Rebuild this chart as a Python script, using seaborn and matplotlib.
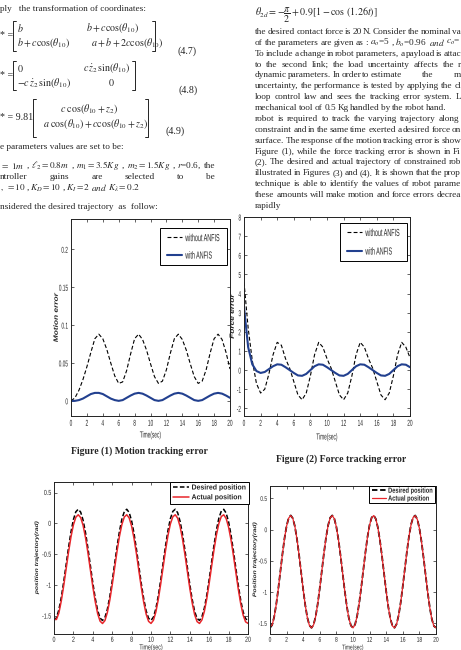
import matplotlib
matplotlib.use("Agg")
import matplotlib.pyplot as plt
import seaborn as sns
from matplotlib.lines import Line2D
from matplotlib.patheffects import AbstractPathEffect
from matplotlib.transforms import Affine2D

# ---- data ----
t_err = [0.0, 0.5, 1.0, 1.5, 2.0, 2.5, 3.0, 3.5, 4.0, 4.5, 5.0, 5.5, 6.0, 6.5,
         7.0, 7.5, 8.0, 8.5, 9.0, 9.5, 10.0, 10.5, 11.0, 11.5, 12.0, 12.5, 13.0,
         13.5, 14.0, 14.5, 15.0, 15.5, 16.0, 16.5, 17.0, 17.5, 18.0, 18.5, 19.0,
         19.5, 20.0]

motion_without = [0.000, 0.004, 0.014, 0.028, 0.045, 0.064, 0.082, 0.088, 0.082, 0.068,
                  0.050, 0.033, 0.023, 0.025, 0.040, 0.062, 0.082, 0.088, 0.081, 0.067,
                  0.049, 0.032, 0.023, 0.026, 0.041, 0.063, 0.082, 0.088, 0.081, 0.067,
                  0.049, 0.032, 0.023, 0.026, 0.041, 0.063, 0.082, 0.088, 0.081, 0.064,
                  0.042]
motion_with = [0.000, 0.000, 0.001, 0.003, 0.006, 0.009, 0.0105, 0.0105, 0.009, 0.006,
               0.003, 0.001, 0.000, 0.001, 0.004, 0.007, 0.0095, 0.0105, 0.0095, 0.007,
               0.004, 0.001, 0.000, 0.001, 0.004, 0.007, 0.0095, 0.0105, 0.0095, 0.007,
               0.004, 0.001, 0.000, 0.001, 0.004, 0.007, 0.0095, 0.0105, 0.0095, 0.007,
               0.004]

force_without = [4.6, 2.2, 0.5, -0.7, -1.2, -1.0, -0.2, 0.8, 1.45, 1.3,
                 0.6, 0.1, -0.6, -1.3, -1.55, -1.2, -0.3, 0.8, 1.45, 1.2,
                 0.6, 0.1, -0.6, -1.3, -1.55, -1.2, -0.3, 0.8, 1.45, 1.2,
                 0.6, 0.1, -0.6, -1.3, -1.55, -1.2, -0.3, 0.8, 1.45, 1.2,
                 0.65]
force_with = [3.3, 1.2, 0.3, -0.05, -0.15, -0.1, 0.05, 0.2, 0.3, 0.28,
              0.15, 0.0, -0.15, -0.28, -0.3, -0.2, 0.0, 0.2, 0.3, 0.28,
              0.15, 0.0, -0.15, -0.28, -0.3, -0.2, 0.0, 0.2, 0.3, 0.28,
              0.15, 0.0, -0.15, -0.28, -0.3, -0.2, 0.0, 0.2, 0.3, 0.28,
              0.15]

t_pos = [0.0, 0.25, 0.5, 0.75, 1.0, 1.25, 1.5, 1.75, 2.0, 2.25,
         2.5, 2.75, 3.0, 3.25, 3.5, 3.75, 4.0, 4.25, 4.5, 4.75,
         5.0, 5.25, 5.5, 5.75, 6.0, 6.25, 6.5, 6.75, 7.0, 7.25,
         7.5, 7.75, 8.0, 8.25, 8.5, 8.75, 9.0, 9.25, 9.5, 9.75,
         10.0, 10.25, 10.5, 10.75, 11.0, 11.25, 11.5, 11.75, 12.0, 12.25,
         12.5, 12.75, 13.0, 13.25, 13.5, 13.75, 14.0, 14.25, 14.5, 14.75,
         15.0, 15.25, 15.5, 15.75, 16.0, 16.25, 16.5, 16.75, 17.0, 17.25,
         17.5, 17.75, 18.0, 18.25, 18.5, 18.75, 19.0, 19.25, 19.5, 19.75,
         20.0]

pos_desired = [-1.571, -1.527, -1.398, -1.198, -0.946, -0.667, -0.388, -0.137, 0.061, 0.188,
               0.229, 0.182, 0.052, -0.150, -0.403, -0.682, -0.960, -1.209, -1.408, -1.532,
               -1.571, -1.522, -1.389, -1.186, -0.932, -0.652, -0.374, -0.126, 0.070, 0.192,
               0.229, 0.176, 0.042, -0.163, -0.417, -0.697, -0.974, -1.221, -1.416, -1.535,
               -1.570, -1.517, -1.380, -1.173, -0.917, -0.637, -0.360, -0.113, 0.078, 0.195,
               0.229, 0.172, 0.033, -0.176, -0.432, -0.712, -0.988, -1.233, -1.425, -1.539,
               -1.570, -1.511, -1.370, -1.161, -0.902, -0.622, -0.346, -0.101, 0.087, 0.200,
               0.228, 0.166, 0.023, -0.188, -0.447, -0.727, -1.003, -1.245, -1.432, -1.543,
               -1.569]
pos_actual_3 = [-1.550, -1.555, -1.451, -1.256, -1.009, -0.736, -0.463, -0.218, -0.024, 0.100,
                0.140, 0.094, -0.033, -0.231, -0.478, -0.751, -1.023, -1.266, -1.461, -1.582,
                -1.620, -1.573, -1.442, -1.244, -0.996, -0.722, -0.450, -0.207, -0.016, 0.104,
                0.140, 0.088, -0.043, -0.243, -0.492, -0.766, -1.037, -1.278, -1.469, -1.585,
                -1.619, -1.568, -1.434, -1.231, -0.981, -0.707, -0.436, -0.195, -0.008, 0.107,
                0.140, 0.084, -0.052, -0.256, -0.506, -0.780, -1.050, -1.290, -1.478, -1.589,
                -1.619, -1.562, -1.424, -1.219, -0.966, -0.692, -0.422, -0.183, 0.001, 0.112,
                0.139, 0.078, -0.062, -0.268, -0.521, -0.795, -1.065, -1.302, -1.485, -1.593,
                -1.618]
pos_actual_4 = [-1.550, -1.530, -1.400, -1.200, -0.948, -0.669, -0.390, -0.139, 0.059, 0.186,
                0.227, 0.181, 0.051, -0.151, -0.404, -0.683, -0.962, -1.211, -1.410, -1.534,
                -1.573, -1.524, -1.391, -1.188, -0.934, -0.654, -0.376, -0.128, 0.068, 0.190,
                0.227, 0.175, 0.041, -0.164, -0.418, -0.698, -0.976, -1.223, -1.418, -1.537,
                -1.572, -1.519, -1.382, -1.175, -0.919, -0.639, -0.362, -0.115, 0.076, 0.193,
                0.227, 0.171, 0.032, -0.177, -0.433, -0.713, -0.990, -1.235, -1.427, -1.541,
                -1.572, -1.513, -1.372, -1.163, -0.904, -0.624, -0.348, -0.103, 0.085, 0.198,
                0.226, 0.165, 0.022, -0.189, -0.448, -0.728, -1.005, -1.247, -1.434, -1.545,
                -1.571]

x_ticks = [0, 2, 4, 6, 8, 10, 12, 14, 16, 18, 20]
motion_ticks = [0, 0.05, 0.1, 0.15, 0.2]
motion_ticklabels = ["0", "0.05", "0.1", "0.15", "0.2"]
force_ticks = [-2, -1, 0, 1, 2, 3, 4, 5, 6, 7, 8]
pos_ticks = [-1.5, -1, -0.5, 0, 0.5]
pos_ticklabels = ["-1.5", "-1", "-0.5", "0", "0.5"]

right_lines = [
    "the desired contact force is 20 N. Consider the nominal va",
    r"of the parameters are given as :  $a_o$=5 , $b_o$=0.96  $and$  $c_o$=",
    "To include a change in robot parameters, a payload is attac",
    "to the second link; the load uncertainty affects the r",
    None,
    "uncertainty, the performance is tested by applying the cl",
    "loop control law and sees the tracking error system. L",
    "mechanical tool of 0.5 Kg handled by the robot hand.",
    "robot is required to track the varying trajectory along",
    "constraint and in the same time exerted a desired force on",
    "surface. The response of the motion tracking error is show",
    "Figure (1), while the force tracking error is shown in Fi",
    "(2). The desired and actual trajectory of constrained rob",
    "illustrated in Figures (3) and (4). It is shown that the prop",
    "technique is able to identify the values of robot parame",
    "these amounts will make motion and force errors decrea",
    "rapidly",
]
right_ends = [461, 461, 461, 461, None, 461, 461, 447, 459, 461, 461, 461, 461, 461, 461, 461, None]

# ---- page setup ----
sns.set_style("ticks")
SANS = "Liberation Sans"
plt.rcParams["font.family"] = ["Liberation Serif", "DejaVu Serif"]
plt.rcParams["mathtext.fontset"] = "stix"

W, H = 461, 650
BODY = 6.7
MS = 7.2
fig = plt.figure(figsize=(W / 100, H / 100), dpi=100)
fig.patch.set_facecolor("white")
rend = fig.canvas.get_renderer()


class Scaled(AbstractPathEffect):
    """Draw a text squeezed/stretched about its own box (the figures were
    pasted into the page with a distorted aspect, so their text is narrow)."""

    def __init__(self, sx=1.0, sy=1.0, ha="center"):
        super().__init__()
        self.sx, self.sy, self.ha = sx, sy, ha

    def draw_path(self, renderer, gc, tpath, affine, rgbFace=None):
        ext = tpath.get_extents()
        px = {"left": ext.x0, "center": 0.5 * (ext.x0 + ext.x1), "right": ext.x1}[self.ha]
        py = 0.5 * (ext.y0 + ext.y1)
        aff = Affine2D().translate(-px, -py).scale(self.sx, self.sy).translate(px, py) + affine
        renderer.draw_path(gc, tpath, aff, rgbFace)


def txt(x, y, s, **kw):
    kw.setdefault("fontsize", BODY)
    kw.setdefault("va", "center")
    return fig.text(x / W, 1 - y / H, s, **kw)


def justified(words, x0, x1, y, **kw):
    arts = [txt(x0, y, w_, **kw) for w_ in words]
    widths = [a.get_window_extent(rend).width for a in arts]
    gap = (x1 - x0 - sum(widths)) / max(len(words) - 1, 1)
    x = x0
    for a, wd in zip(arts, widths):
        a.set_x(x / W)
        x += wd + gap


def bracket(x, y0, y1, side):
    d = 3 if side == "l" else -3
    xs = [(x + d) / W, x / W, x / W, (x + d) / W]
    ys = [1 - y0 / H, 1 - y0 / H, 1 - y1 / H, 1 - y1 / H]
    fig.add_artist(Line2D(xs, ys, transform=fig.transFigure, color="black", lw=0.6))


# ---- left column text and equations ----
txt(0, 9, "ply   the transformation of coordinates:")
txt(0, 36, "* =", fontsize=MS)
bracket(13, 21, 51, "l"); bracket(155, 21, 51, "r")
txt(17, 28, r"$b$", fontsize=MS)
txt(86, 28, r"$b+c\cos(\theta_{10})$", fontsize=MS)
txt(17, 43, r"$b+c\cos(\theta_{10})$", fontsize=MS)
txt(91, 43, r"$a+b+2c\cos(\theta_{10})$", fontsize=MS)
txt(177, 51, "(4.7)", fontsize=MS)

txt(0, 76, "* =", fontsize=MS)
bracket(13, 61, 90, "l"); bracket(135, 61, 90, "r")
txt(17, 68, r"$0$", fontsize=MS)
txt(83, 68, r"$c\,\dot{z}_2\,\sin(\theta_{10})$", fontsize=MS)
txt(17, 83, r"$-c\,\dot{z}_2\,\sin(\theta_{10})$", fontsize=MS)
txt(108, 83, r"$0$", fontsize=MS)
txt(178, 90, "(4.8)", fontsize=MS)

txt(0, 117, "* = 9.81", fontsize=MS)
bracket(33, 99, 137, "l"); bracket(148, 99, 137, "r")
txt(60, 109, r"$c\ \cos(\theta_{10}+z_2)$", fontsize=MS)
txt(43, 124, r"$a\ \cos(\theta_{10})+c\cos(\theta_{10}+z_2)$", fontsize=MS)
txt(165, 131, "(4.9)", fontsize=MS)

txt(0, 147, "e parameters values are set to be:")
justified([r"$=\ 1m$", ",", r"$\ell_2=0.8m$", ",", r"$m_1=3.5Kg$", ",",
           r"$m_2=1.5Kg$", ",", r"$r$=0.6,", "the"], 0, 215, 166)
justified(["ntroller", "gains", "are", "selected", "to", "be"], 0, 215, 177)
justified([r"$,\ =10$", ",", r"$K_D=10$", ",", r"$K_I=2$", r"$and$",
           r"$K_\lambda=0.2$"], 0, 140, 188)
txt(0, 207, "nsidered the desired trajectory  as  follow:")

# ---- right column text ----
txt(255, 15, r"$\theta_{2d}=-\dfrac{\pi}{2}+0.9\left[1-\cos\,(1.26t)\right]$", fontsize=MS)
for k, (s, x_end) in enumerate(zip(right_lines, right_ends)):
    y = 32 + 10.87 * k
    if s is None:
        justified("dynamic parameters. In order to estimate".split(), 255, 402, y)
        justified(["the", "m"], 422, 461, y)
    elif x_end is None:
        txt(255, y, s)
    else:
        justified(s.split(), 255, x_end, y)


# ---- plots ----
def axes_at(x0, y0, x1, y1):
    return fig.add_axes([x0 / W, 1 - y1 / H, (x1 - x0) / W, (y1 - y0) / H])


NAVY = "#22408f"
RED = "#e8262b"


def style(ax, ylim, yticks, yticklabels, ylabel, ylab_x, xlab_y, tick_fs, sx, lab_fs, ylab_fs):
    ax.set_xlim(0, 20)
    ax.set_ylim(*ylim)
    ax.set_xticks(x_ticks)
    ax.set_xticklabels([str(v) for v in x_ticks], fontsize=tick_fs, family=SANS)
    ax.set_yticks(yticks)
    ax.set_yticklabels(yticklabels, fontsize=tick_fs, family=SANS)
    for lbl in ax.get_xticklabels():
        lbl.set_path_effects([Scaled(sx, 1, "center")])
    for lbl in ax.get_yticklabels():
        lbl.set_path_effects([Scaled(sx, 1, "right")])
    ax.tick_params(direction="in", top=True, right=True, length=2.5, width=0.5,
                   labelcolor="#222222", pad=2.0)
    for sp in ax.spines.values():
        sp.set_visible(True)
        sp.set_linewidth(0.7)
        sp.set_color("#222222")
    xl = ax.set_xlabel("Time(sec)", fontsize=lab_fs, family=SANS, va="center")
    xl.set_path_effects([Scaled(sx, 1, "center")])
    ax.xaxis.set_label_coords(0.5, xlab_y)
    yl = ax.set_ylabel(ylabel, fontsize=ylab_fs, family=SANS, fontweight="bold",
                       style="italic", va="center")
    yl.set_path_effects([Scaled(1, 0.75, "center")])
    ax.yaxis.set_label_coords(ylab_x, 0.5)


def legend(ax, labels, anchor, fs, sy, spacing, pad, hlen, tpad, bold=False):
    prop = {"family": SANS, "size": fs, "weight": "bold" if bold else "normal"}
    lg = ax.legend(ax.get_lines()[:2], labels, loc="upper right", bbox_to_anchor=anchor,
                   borderaxespad=0, fancybox=False, framealpha=1, edgecolor="black",
                   prop=prop, labelspacing=spacing, borderpad=pad, handlelength=hlen,
                   handletextpad=tpad)
    lg.get_frame().set_linewidth(0.7)
    for t in lg.get_texts():
        t.set_path_effects([Scaled(1, sy, "left")])


# Figure (1)
ax1 = axes_at(71, 219, 230, 416)
sns.lineplot(x=t_err, y=motion_without, ax=ax1, color="black", lw=0.8,
             linestyle=(0, (3.5, 2)), sort=False, estimator=None)
sns.lineplot(x=t_err, y=motion_with, ax=ax1, color=NAVY, lw=1.5, sort=False, estimator=None)
style(ax1, (-0.02, 0.24), motion_ticks, motion_ticklabels, "Motion error",
      -0.088, -(435 - 416) / 197, 6.2, 0.55, 6.3, 6.0)
legend(ax1, ["without ANFIS", "with ANFIS"], (0.981, 0.954), fs=3.9, sy=1.9,
       spacing=2.3, pad=1.35, hlen=2.8, tpad=0.6)

# Figure (2)
ax2 = axes_at(244, 217, 410, 416)
sns.lineplot(x=t_err, y=force_without, ax=ax2, color="black", lw=0.8,
             linestyle=(0, (3.5, 2)), sort=False, estimator=None)
sns.lineplot(x=t_err, y=force_with, ax=ax2, color=NAVY, lw=1.5, sort=False, estimator=None)
style(ax2, (-2.4, 8), force_ticks, [str(v) for v in force_ticks], "Force error",
      -0.066, -(437 - 416) / 199, 6.2, 0.55, 6.3, 6.0)
legend(ax2, ["without ANFIS", "with ANFIS"], (0.982, 0.970), fs=3.9, sy=1.9,
       spacing=2.5, pad=1.35, hlen=2.8, tpad=0.6)

# Figure (3)
ax3 = axes_at(54, 482, 248, 634)
sns.lineplot(x=t_pos, y=pos_desired, ax=ax3, color="black", lw=1.1,
             linestyle=(0, (3, 1.5)), sort=False, estimator=None)
sns.lineplot(x=t_pos, y=pos_actual_3, ax=ax3, color=RED, lw=1.1, sort=False, estimator=None)
style(ax3, (-1.79, 0.67), pos_ticks, pos_ticklabels, "position trajectory(rad)",
      -0.088, -(648 - 634) / 152, 5.3, 0.72, 5.3, 4.8)
legend(ax3, ["Desired position", "Actual position"], (1.005, 1.0), fs=5.0, sy=1.05,
       spacing=0.4, pad=0.35, hlen=2.4, tpad=0.3, bold=True)

# Figure (4)
ax4 = axes_at(270, 486, 436, 634)
sns.lineplot(x=t_pos, y=pos_desired, ax=ax4, color="black", lw=1.3,
             linestyle=(0, (3, 1.5)), sort=False, estimator=None)
sns.lineplot(x=t_pos, y=pos_actual_4, ax=ax4, color=RED, lw=0.9, sort=False, estimator=None)
style(ax4, (-1.67, 0.70), pos_ticks, pos_ticklabels, "Position trajectory(rad)",
      -0.090, -(648 - 634) / 148, 5.0, 0.7, 5.0, 4.9)
legend(ax4, ["Desired position", "Actual position"], (0.994, 1.0), fs=4.1, sy=1.3,
       spacing=0.5, pad=0.4, hlen=2.6, tpad=0.3, bold=True)

# captions
txt(139, 451, "Figure (1) Motion tracking error", fontsize=7.0, fontweight="bold", ha="center")
txt(341, 459, "Figure (2) Force tracking error", fontsize=7.0, fontweight="bold", ha="center")

fig.savefig("out.png", dpi=100, facecolor="white")
